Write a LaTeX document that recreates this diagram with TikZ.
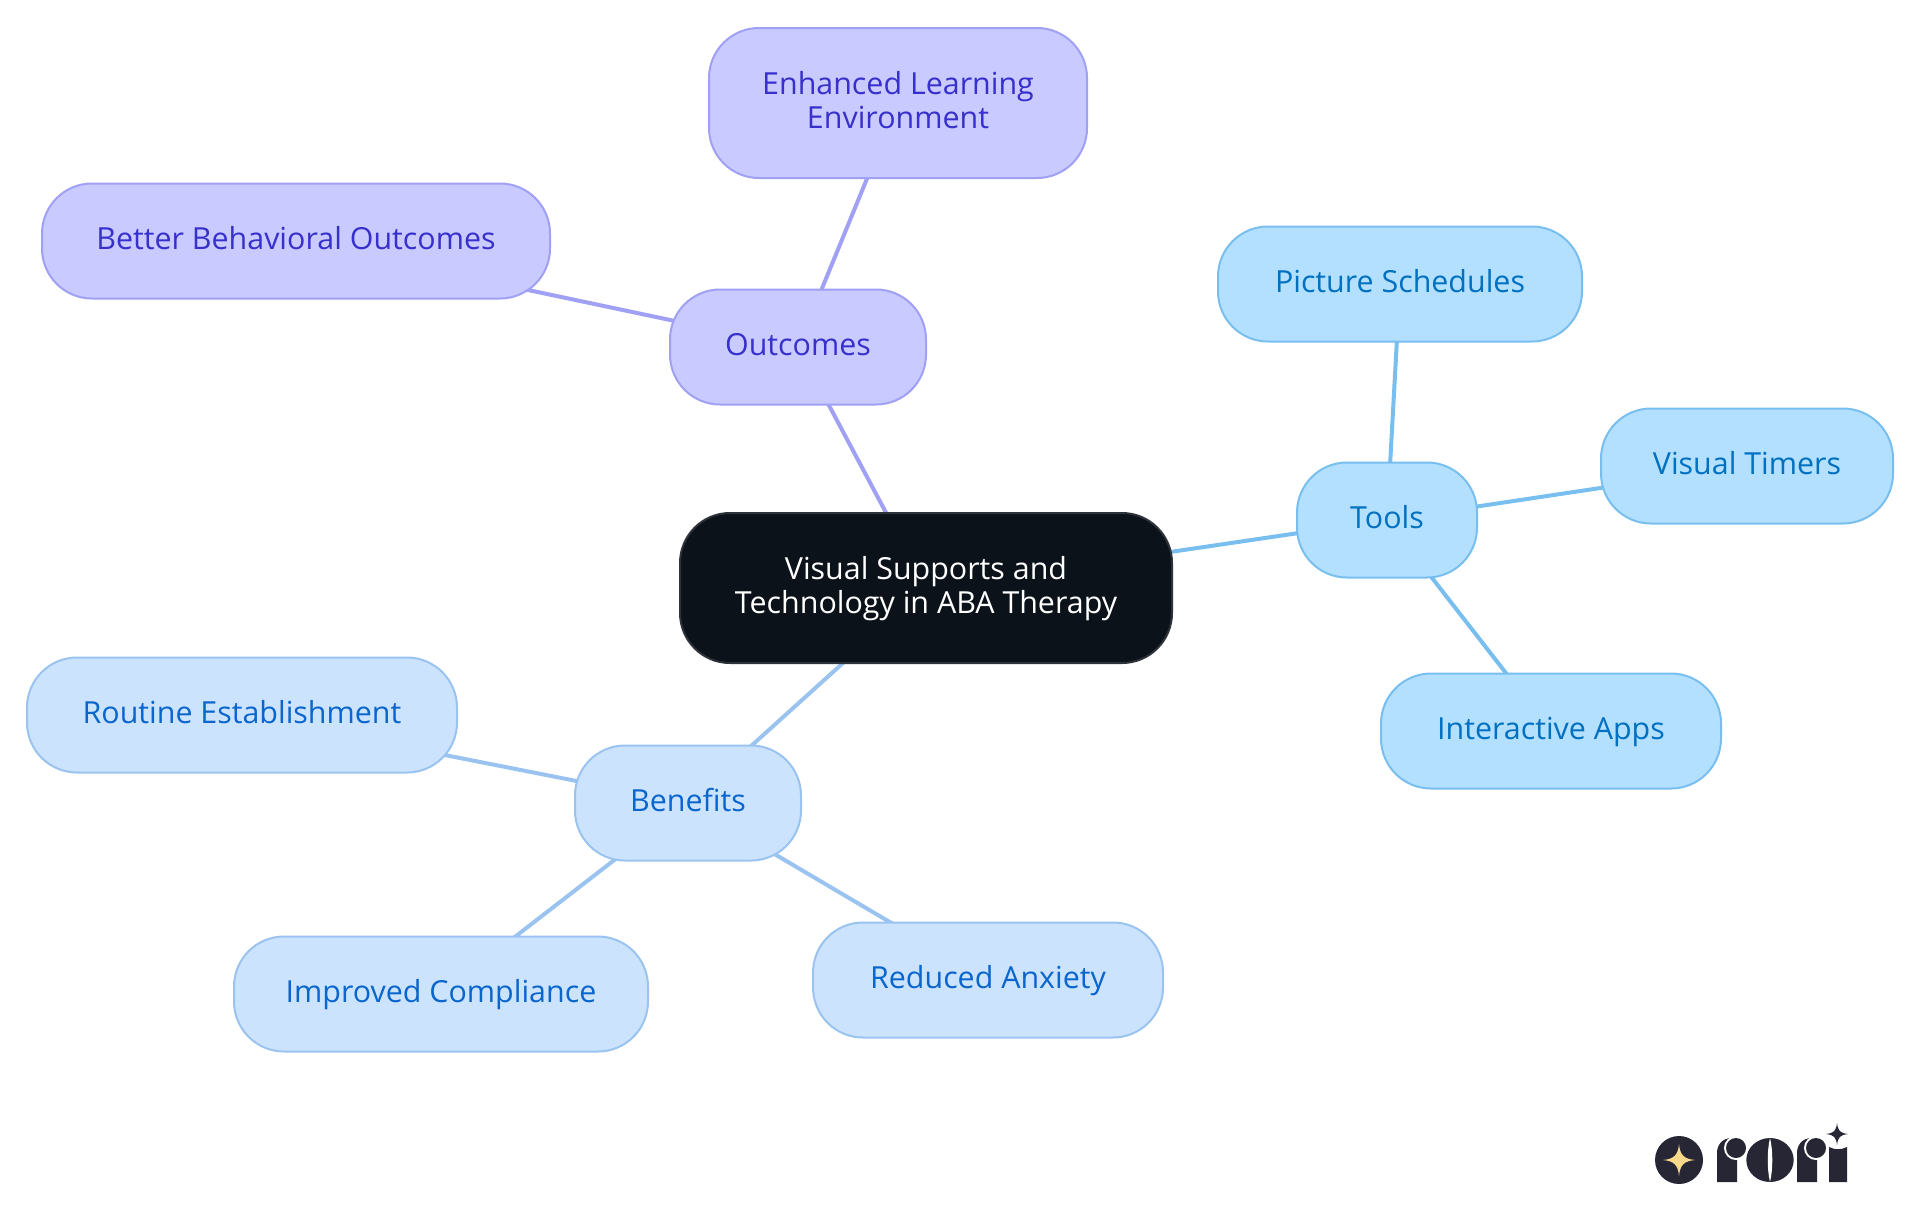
\documentclass[tikz,border=0pt]{standalone}
\usepackage{fontspec}
\setmainfont{Open Sans}
\usetikzlibrary{backgrounds}
\definecolor{rootfill}{HTML}{0B121A}
\definecolor{rootline}{HTML}{2E3339}
\definecolor{purfill}{HTML}{C9CAFF}
\definecolor{purline}{HTML}{A0A0F5}
\definecolor{purtext}{HTML}{3730CC}
\definecolor{toolfill}{HTML}{B3E0FF}
\definecolor{toolline}{HTML}{78BFF0}
\definecolor{tooltext}{HTML}{0070C0}
\definecolor{benefill}{HTML}{CCE3FD}
\definecolor{beneline}{HTML}{9AC3F0}
\definecolor{benetext}{HTML}{0A66CC}
\definecolor{logodark}{HTML}{262635}
\definecolor{logostar}{HTML}{FBD98A}
\tikzset{
    box/.style={draw,line width=1pt,rounded corners=25pt,align=center,inner sep=0pt,
        font=\fontsize{15.2}{17}\selectfont,minimum height=57.5pt,text height=11.4pt,text depth=2.5pt},
    tallbox/.style={box,minimum height=75pt,text height=28.2pt,text depth=2.5pt},
    rootbox/.style={tallbox,fill=rootfill,draw=rootline,text=white},
    purbox/.style={fill=purfill,draw=purline,text=purtext},
    toolbox/.style={fill=toolfill,draw=toolline,text=tooltext},
    benebox/.style={fill=benefill,draw=beneline,text=benetext},
    link/.style={line width=2pt},
}
\begin{document}
\begin{tikzpicture}[x=0.5pt,y=-0.5pt]
        \useasboundingbox (0,0) rectangle (1920,1215);
        \node [rootbox,minimum width=246pt] (root) at (926,588) {Visual Supports and\\Technology in ABA Therapy};
        \node [box,purbox,minimum width=128pt] (outcomes) at (798,347) {Outcomes};
        \node [tallbox,purbox,minimum width=189pt] (enhanced) at (898,103) {Enhanced Learning\\Environment};
        \node [box,purbox,minimum width=254pt] (better) at (296,241) {Better Behavioral Outcomes};
        \node [box,toolbox,minimum width=90pt] (tools) at (1387,520) {Tools};
        \node [box,toolbox,minimum width=182pt] (picture) at (1400,284) {Picture Schedules};
        \node [box,toolbox,minimum width=146pt] (timers) at (1747,466) {Visual Timers};
        \node [box,toolbox,minimum width=170pt] (apps) at (1551,731) {Interactive Apps};
        \node [box,benebox,minimum width=113pt] (benefits) at (688,803) {Benefits};
        \node [box,benebox,minimum width=215pt] (routine) at (242,715) {Routine Establishment};
        \node [box,benebox,minimum width=207pt] (improved) at (441,994) {Improved Compliance};
        \node [box,benebox,minimum width=175pt] (reduced) at (988,980) {Reduced Anxiety};
        \begin{scope}[on background layer]
            \draw [link,purline] (root.center) -- (outcomes.center);
            \draw [link,purline] (outcomes.center) -- (enhanced.center);
            \draw [link,purline] (outcomes.center) -- (better.center);
            \draw [link,toolline] (root.center) -- (tools.center);
            \draw [link,toolline] (tools.center) -- (picture.center);
            \draw [link,toolline] (tools.center) -- (timers.center);
            \draw [link,toolline] (tools.center) -- (apps.center);
            \draw [link,beneline] (root.center) -- (benefits.center);
            \draw [link,beneline] (benefits.center) -- (routine.center);
            \draw [link,beneline] (benefits.center) -- (improved.center);
            \draw [link,beneline] (benefits.center) -- (reduced.center);
        \end{scope}
        % logo
        \fill [logodark] (1679,1160) circle [radius=24];
        \fill [logostar] (1679,1144) .. controls (1680,1155) and (1684,1159) .. (1695,1160)
            .. controls (1684,1161) and (1680,1165) .. (1679,1176)
            .. controls (1678,1165) and (1674,1161) .. (1663,1160)
            .. controls (1674,1159) and (1678,1155) .. (1679,1144) -- cycle;
        \fill [logodark] (1717,1182) -- (1717,1153) .. controls (1717,1145) and (1722,1138) .. (1732,1138) -- (1737,1138) -- (1737,1182) -- cycle;
        \fill [white] (1736,1148) circle [radius=12];
        \fill [logodark] (1736,1148) circle [radius=10];
        \fill [logodark] (1770,1160) ellipse [x radius=23.7,y radius=22];
        \fill [white] (1770,1138) .. controls (1773,1150) and (1773,1170) .. (1770,1182)
            .. controls (1767,1170) and (1767,1150) .. (1770,1138) -- cycle;
        \fill [logodark] (1797,1182) -- (1797,1153) .. controls (1797,1145) and (1802,1138) .. (1812,1138) -- (1817,1138) -- (1817,1182) -- cycle;
        \fill [white] (1816,1148) circle [radius=12];
        \fill [logodark] (1816,1148) circle [radius=10];
        \fill [logodark] (1829,1182) -- (1829,1147) .. controls (1835,1150) and (1841,1150) .. (1847,1147) -- (1847,1182) -- cycle;
        \fill [logodark] (1837,1123) .. controls (1838,1131) and (1840,1133) .. (1848,1134)
            .. controls (1840,1135) and (1838,1137) .. (1837,1145)
            .. controls (1836,1137) and (1834,1135) .. (1826,1134)
            .. controls (1834,1133) and (1836,1131) .. (1837,1123) -- cycle;
    \end{tikzpicture}
\end{document}
